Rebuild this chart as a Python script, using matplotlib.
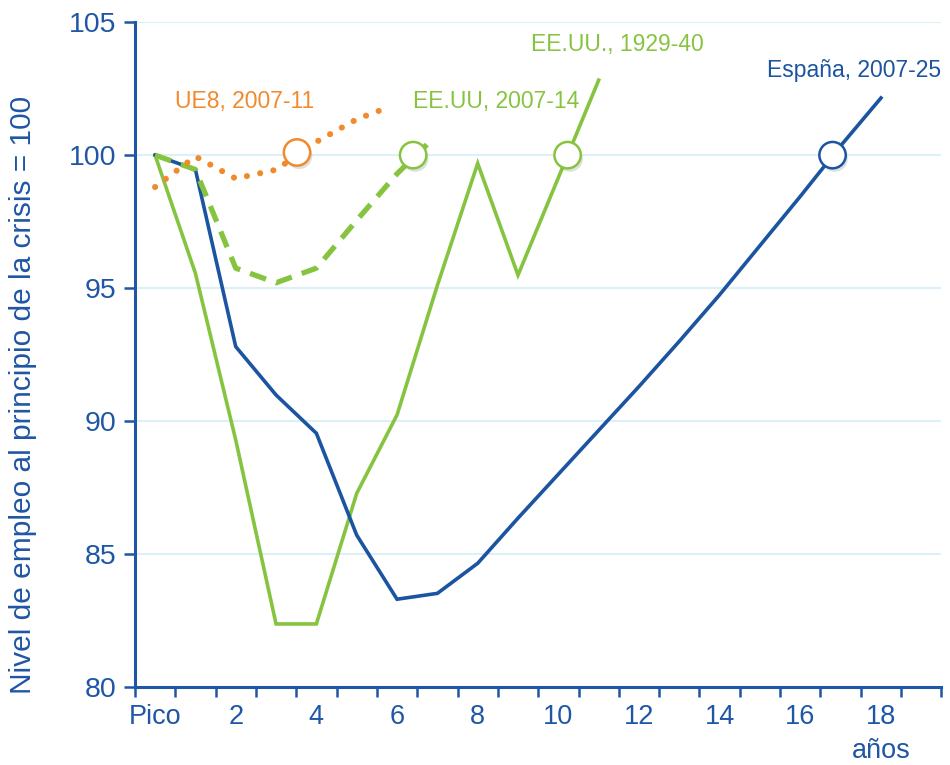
import matplotlib
matplotlib.use('Agg')
import matplotlib.pyplot as plt
import matplotlib.patheffects as pe

# categorias del eje x: Pico, 1, 2, ... 19 (etiqueta cada dos)
n_cats = 20
tick_labels = ['Pico', '2', '4', '6', '8', '10', '12', '14', '16', '18']
tick_pos = [0, 2, 4, 6, 8, 10, 12, 14, 16, 18]

# series (indice = anos desde el pico)
x_espana = list(range(19))
espana = [100, 99.46, 92.8, 90.98, 89.54, 85.71, 83.3, 83.52, 84.65, 86.35,
          88.0, 89.65, 91.3, 93.0, 94.75, 96.6, 98.45, 100.35, 102.15]

x_eeuu29 = list(range(12))
eeuu29 = [100, 95.56, 89.29, 82.37, 82.37, 87.28, 90.23, 95.1, 99.69, 95.49,
          99.15, 102.82]

x_eeuu07 = [0, 1, 2, 3, 4, 5, 6, 6.9]
eeuu07 = [100, 99.46, 95.75, 95.2, 95.75, 97.55, 99.3, 100.63]

x_ue8 = [0, 1, 2, 3, 4, 5, 5.75]
ue8 = [98.8, 99.95, 99.12, 99.45, 100.5, 101.35, 101.78]

# punto de recuperacion del nivel previo
recup_x = {'ue8': 3.52, 'eeuu07': 6.4, 'eeuu29': 10.23, 'espana': 16.8}
recup_y = {'ue8': 100.1, 'eeuu07': 100, 'eeuu29': 100, 'espana': 100}

# etiquetas de series
labels = {'ue8': 'UE8, 2007-11', 'eeuu07': 'EE.UU, 2007-14',
          'eeuu29': 'EE.UU., 1929-40', 'espana': 'España, 2007-25'}
label_x = {'ue8': 2.22, 'eeuu07': 8.46, 'eeuu29': 11.47, 'espana': 17.33}
label_y = {'ue8': 102.0, 'eeuu07': 102.0, 'eeuu29': 104.15, 'espana': 103.2}

BLUE = '#1B54A0'
AXBLUE = '#1F56A5'
GREEN = '#86C440'
ORANGE = '#F08A2C'
GRID = '#DDEFF9'

plt.rcParams['font.family'] = ['Liberation Sans', 'DejaVu Sans']

fig = plt.figure(figsize=(9.5, 7.65), dpi=100)
ax = fig.add_axes([0.142, 0.102, 0.849, 0.869])

ax.set_xlim(-0.5, n_cats - 0.5)
ax.set_ylim(80, 105)

for v in [85, 90, 95, 100, 105]:
    ax.axhline(v, color=GRID, lw=1.5, zorder=0)

ax.plot(x_eeuu29, eeuu29, color=GREEN, lw=2.6, zorder=2, solid_joinstyle='miter')
ax.plot(x_espana, espana, color=BLUE, lw=2.6, zorder=3, solid_joinstyle='miter')
ax.plot(x_eeuu07, eeuu07, color=GREEN, lw=3.8, ls=(0, (3.2, 2.0)), zorder=4)
ax.plot(x_ue8, ue8, color=ORANGE, lw=4.4, ls=(0, (0.01, 2.2)),
        dash_capstyle='round', zorder=5)

shadow = [pe.SimplePatchShadow(offset=(1.5, -2.5), shadow_rgbFace='#666666', alpha=0.2),
          pe.Normal()]
colors = {'ue8': ORANGE, 'eeuu07': GREEN, 'eeuu29': GREEN, 'espana': BLUE}
for k in ['ue8', 'eeuu07', 'eeuu29', 'espana']:
    ax.plot([recup_x[k]], [recup_y[k]], marker='o', ms=19, mfc='white',
            mec=colors[k], mew=1.8, ls='none', zorder=6, path_effects=shadow)
    ax.text(label_x[k], label_y[k], labels[k], color=colors[k], fontsize=16.5,
            ha='center', va='center', zorder=7)

for s in ['top', 'right']:
    ax.spines[s].set_visible(False)
for s in ['left', 'bottom']:
    ax.spines[s].set_color(AXBLUE)
    ax.spines[s].set_linewidth(2.2)

ax.set_yticks([80, 85, 90, 95, 100, 105])
ax.tick_params(axis='y', colors=AXBLUE, labelcolor=AXBLUE, labelsize=20.5,
               length=8, width=1.8, pad=5)

ax.set_xticks([i - 0.5 for i in range(n_cats + 1)])
ax.set_xticklabels([])
ax.tick_params(axis='x', which='major', colors=AXBLUE, length=7, width=1.8)
ax.set_xticks(tick_pos, minor=True)
ax.set_xticklabels(tick_labels, minor=True)
ax.tick_params(axis='x', which='minor', length=0, labelcolor=AXBLUE,
               labelsize=19.5, pad=12)

ax.text(18, -0.097, 'años', transform=ax.get_xaxis_transform(), color=AXBLUE,
        fontsize=19.5, ha='center', va='center')

ax.set_ylabel('Nivel de empleo al principio de la crisis = 100', color=AXBLUE,
              fontsize=21.5)
ax.yaxis.set_label_coords(-0.122, 0.44)

fig.savefig('out.png', dpi=100)
